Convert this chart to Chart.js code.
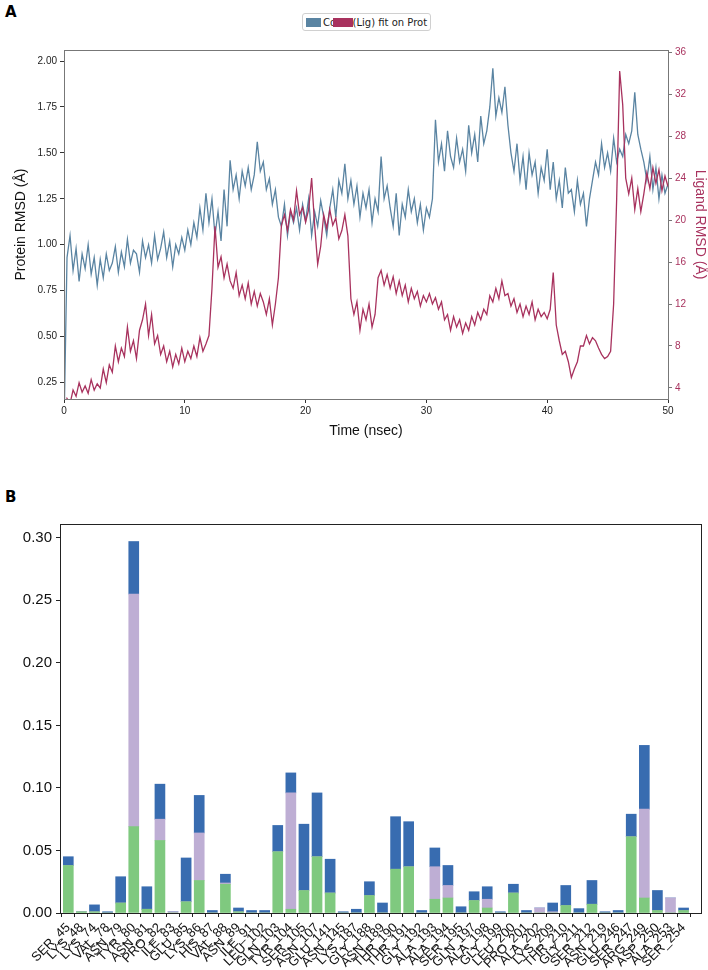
<!DOCTYPE html>
<html>
<head>
<meta charset="utf-8">
<script src="https://cdn.jsdelivr.net/npm/chart.js@4.4.1/dist/chart.umd.min.js"></script>
<style>
body{margin:0;background:#fff;width:708px;height:970px;position:relative;overflow:hidden;font-family:"DejaVu Sans",sans-serif}
canvas{position:absolute;left:0}
.tag{position:absolute;left:5px;font-weight:bold;font-size:15px;color:#000}
#legend{position:absolute;left:302px;top:13px;height:16px;border:1px solid #d0d0d0;border-radius:3px;font-size:10px;color:#222;display:flex;align-items:center;padding:0 3px;background:#fff}
#legend i{display:inline-block;height:9px}
</style>
</head>
<body>
<div class="tag" style="top:3px">A</div>
<div id="legend"><i style="width:15px;background:#5a84a2"></i><span style="margin-left:2px">Cα</span><i style="width:20px;background:#a8325e;margin-left:-4px"></i><span>(Lig) fit on Prot</span></div>
<canvas id="rmsd" width="708" height="400" style="top:40px"></canvas>
<div class="tag" style="top:488px">B</div>
<canvas id="contacts" width="708" height="470" style="top:500px"></canvas>
<script>
// panel A: RMSD over time, one sample every 0.25 ns
const STEP = 0.25;
const timeTicks = [0, 10, 20, 30, 40, 50];
const protTicks = [0.25, 0.50, 0.75, 1.00, 1.25, 1.50, 1.75, 2.00];
const ligTicks = [4, 8, 12, 16, 20, 24, 28, 32, 36];

const protRmsd = [
  0.00,0.93,1.05,0.86, 0.98,0.80,0.95,0.87, 1.00,0.84,0.93,0.78, 0.92,0.82,0.95,0.86,
  0.90,0.99,0.85,0.96, 0.88,1.03,0.90,0.97, 0.95,0.85,1.02,0.93, 1.00,0.90,1.05,0.92,
  0.98,1.07,0.93,1.02, 0.88,1.00,0.95,1.04, 0.97,1.08,1.00,1.12, 1.04,1.20,1.08,1.28,
  1.12,1.25,1.05,1.18, 1.02,1.30,1.10,1.46, 1.30,1.38,1.25,1.40, 1.32,1.42,1.30,1.38,
  1.56,1.40,1.45,1.30, 1.36,1.22,1.30,1.15, 1.10,1.22,1.05,1.18, 1.12,1.20,1.08,1.22,
  1.13,1.25,1.05,1.18, 1.10,1.24,1.15,1.05, 1.20,1.30,1.15,1.35, 1.28,1.44,1.25,1.35,
  1.22,1.32,1.15,1.28, 1.20,1.30,1.12,1.25, 1.18,1.48,1.25,1.32, 1.20,1.10,1.28,1.05,
  1.22,1.15,1.30,1.18, 1.25,1.12,1.22,1.08, 1.20,1.15,1.25,1.68, 1.45,1.55,1.40,1.62,
  1.48,1.42,1.58,1.45, 1.52,1.40,1.65,1.50, 1.60,1.45,1.70,1.55, 1.62,1.75,1.96,1.70,
  1.80,1.72,1.86,1.65, 1.50,1.40,1.55,1.35, 1.48,1.30,1.50,1.38, 1.45,1.28,1.42,1.35,
  1.52,1.30,1.45,1.25, 1.35,1.20,1.42,1.28, 1.30,1.18,1.35,1.22, 1.28,1.10,1.25,1.35,
  1.45,1.38,1.55,1.42, 1.50,1.40,1.58,1.45, 1.52,1.48,1.60,1.55, 1.62,1.83,1.60,1.52,
  1.45,1.35,1.48,1.30, 1.42,1.25,1.38,1.28, 1.33
];

const ligRmsd = [
  1.5,3.0,2.5,3.8, 3.2,4.5,3.6,4.2, 3.5,4.8,3.8,4.4, 4.0,5.8,4.5,6.2,
  5.5,8.0,6.5,7.8, 7.0,9.8,7.5,8.5, 6.8,9.5,10.5,12.0, 9.0,11.0,8.2,9.0,
  7.2,8.0,6.5,7.5, 6.0,7.2,6.3,7.8, 6.5,7.5,6.8,8.0, 7.0,8.8,7.5,8.2,
  9.0,13.5,19.4,15.5, 16.5,14.5,15.8,14.2, 13.5,15.0,12.8,13.8, 12.5,14.0,12.0,13.2,
  11.8,13.0,12.2,11.0, 12.5,10.0,12.0,14.5, 19.5,20.5,19.0,21.0, 20.0,22.8,20.5,21.2,
  19.8,21.0,24.0,19.5, 15.8,17.5,20.5,19.2, 21.0,19.5,20.2,18.2, 19.0,20.5,18.5,12.5,
  11.0,12.2,9.5,11.5, 10.5,12.0,9.8,11.0, 14.5,15.2,13.8,14.8, 13.5,14.6,13.0,14.2,
  12.8,13.8,12.2,13.5, 12.5,13.2,11.8,12.8, 12.2,13.0,12.0,12.6, 11.5,12.2,10.5,11.0,
  9.5,10.8,9.8,10.5, 9.2,10.2,9.5,10.8, 10.0,11.2,10.5,11.5, 11.0,12.8,12.2,13.5,
  12.5,14.2,12.8,13.0, 11.8,12.5,11.2,12.0, 10.8,11.8,11.0,12.2, 10.5,11.5,10.8,11.2,
  10.6,11.5,15.0,10.0, 8.5,7.2,7.5,6.5, 5.0,5.8,6.5,8.0, 8.0,9.0,8.2,8.8,
  8.5,7.8,7.2,6.8, 7.0,7.5,12.0,22.0, 34.2,31.0,24.0,22.5, 24.0,21.0,23.0,20.8,
  22.5,24.5,23.0,25.0, 23.5,24.8,22.8,24.2, 23.2
];

// panel B: interaction fractions per residue
const residues = ['SER_45','LYS_48','LYS_74','VAL_78','ASN_79','TYR_80','ASN_81','PRO_82','ILE_83','GLU_85',
  'LYS_86','HIS_87','VAL_88','ASN_89','ILE_91','LEU_102','GLN_103','TYR_104','SER_105','ASN_107',
  'GLU_141','ASN_145','LYS_187','GLY_188','ASN_189','THR_190','THR_191','GLY_192','ALA_193','ALA_194',
  'SER_195','GLN_197','ALA_198','GLY_199','LEU_200','PRO_201','ALA_202','LYS_209','THR_210','GLY_211',
  'SER_212','ASN_219','GLU_246','SER_247','ARG_249','ASP_250','ALA_253','SER_254'];
const hbond = [0.038,0.001,0.001,0,0.008,0.069,0.003,0.058,0,0.009,
  0.026,0,0.023,0.001,0,0,0.049,0.003,0.018,0.045,
  0.016,0,0,0.014,0,0.035,0.037,0,0.011,0.012,
  0,0.010,0.004,0,0.016,0,0,0,0.006,0,
  0.007,0,0,0.061,0.012,0.002,0,0.002];
const hydrophobic = [0,0,0,0,0,0.186,0,0.017,0.001,0,
  0.038,0,0.001,0,0,0,0,0.093,0,0,
  0,0,0,0,0,0,0,0,0.026,0.010,
  0,0,0.007,0,0,0,0.004,0.001,0,0,
  0,0,0,0,0.071,0,0.012,0];
const waterBridge = [0.007,0,0.0055,0.001,0.021,0.042,0.018,0.028,0,0.035,
  0.030,0.002,0.007,0.003,0.002,0.002,0.021,0.016,0.053,0.051,
  0.027,0.001,0.003,0.011,0.008,0.042,0.036,0.002,0.015,0.016,
  0.005,0.007,0.010,0.001,0.007,0.002,0,0.007,0.016,0.0035,
  0.019,0.001,0.002,0.018,0.051,0.016,0,0.002];
const fracTicks = [0, 0.05, 0.10, 0.15, 0.20, 0.25, 0.30];

const frame = {
  id: 'frame',
  afterDraw(chart, args, opts) {
    const a = chart.chartArea, ctx = chart.ctx;
    ctx.save();
    ctx.strokeStyle = opts.color;
    ctx.lineWidth = 1;
    ctx.strokeRect(Math.round(a.left) + 0.5, Math.round(a.top) + 0.5, Math.round(a.right - a.left), Math.round(a.bottom - a.top));
    ctx.restore();
  }
};

const setTicks = list => s => { s.ticks = list.map(v => ({value: v})); };
const tickGrid = c => ({drawOnChartArea: false, tickLength: 4, tickColor: c});

new Chart(document.getElementById('rmsd'), {
  type: 'line',
  data: {datasets: [
    {label: '(Lig) fit on Prot', yAxisID: 'yL', data: ligRmsd.map((v, i) => ({x: i * STEP, y: v})),
     borderColor: '#a8325e', borderWidth: 1.3, pointRadius: 0, order: 0},
    {label: 'Cα', yAxisID: 'yP', data: protRmsd.map((v, i) => ({x: i * STEP, y: v})),
     borderColor: '#5a84a2', borderWidth: 1.3, pointRadius: 0, order: 1}
  ]},
  options: {
    responsive: false, animation: false,
    layout: {padding: {left: 13, top: 10, right: 0, bottom: 0}},
    plugins: {legend: {display: false}, tooltip: {enabled: false}, frame: {color: '#777'}},
    scales: {
      x: {type: 'linear', min: 0, max: 50, afterBuildTicks: setTicks(timeTicks), afterFit: s => { s.height = 41; },
        ticks: {font: {size: 10}, color: '#222', maxRotation: 0, padding: 2},
        title: {display: true, text: 'Time (nsec)', font: {size: 14}, color: '#111', padding: 0},
        grid: tickGrid('#333'), border: {color: '#333'}},
      yP: {position: 'left', min: 0.16, max: 2.06, afterBuildTicks: setTicks(protTicks), afterFit: s => { s.width = 51; },
        ticks: {font: {size: 10}, color: '#222', padding: 3, callback: v => v.toFixed(2)},
        title: {display: true, text: 'Protein RMSD (Å)', font: {size: 14}, color: '#111', padding: 0},
        grid: tickGrid('#333'), border: {color: '#222'}},
      yL: {position: 'right', min: 2.95, max: 36.2, afterBuildTicks: setTicks(ligTicks), afterFit: s => { s.width = 40; },
        ticks: {font: {size: 10}, color: '#a8325e', padding: 3},
        title: {display: true, text: 'Ligand RMSD (Å)', font: {size: 14}, color: '#a8325e', padding: 0},
        grid: tickGrid('#777'), border: {color: '#777'}}
    }
  },
  plugins: [frame]
});

const toPoints = arr => arr.map((v, i) => ({x: i, y: v}));

new Chart(document.getElementById('contacts'), {
  type: 'bar',
  data: {datasets: [
    {label: 'H-bonds', data: toPoints(hbond), backgroundColor: '#7fc97f'},
    {label: 'Hydrophobic', data: toPoints(hydrophobic), backgroundColor: '#beaed4'},
    {label: 'Water bridges', data: toPoints(waterBridge), backgroundColor: '#386cb0'}
  ]},
  options: {
    responsive: false, animation: false,
    datasets: {bar: {barThickness: 10}},
    layout: {padding: {left: 0, top: 24, right: 7, bottom: 0}},
    plugins: {legend: {display: false}, tooltip: {enabled: false}, frame: {color: '#222'}},
    scales: {
      x: {type: 'linear', stacked: true, min: -0.634, max: 48.33, offset: false,
        afterBuildTicks: setTicks(residues.map((r, i) => i)), afterFit: s => { s.height = 57; },
        ticks: {autoSkip: false, minRotation: 45, maxRotation: 45, font: {size: 13}, color: '#111', padding: 3,
          callback: v => residues[v]},
        grid: tickGrid('#222'), border: {color: '#222'}},
      y: {stacked: true, min: 0, max: 0.311, afterBuildTicks: setTicks(fracTicks), afterFit: s => { s.width = 60; },
        ticks: {font: {size: 15}, color: '#111', padding: 4, callback: v => v.toFixed(2)},
        grid: tickGrid('#222'), border: {color: '#222'}}
    }
  },
  plugins: [frame]
});
</script>
</body>
</html>
